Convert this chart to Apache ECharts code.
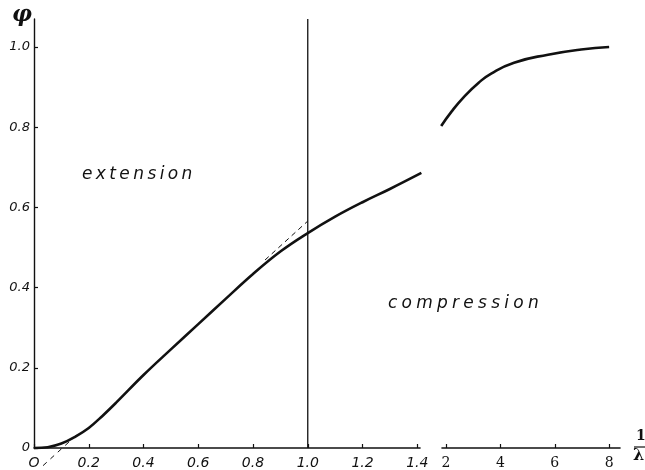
<!DOCTYPE html>
<html>
<head>
<meta charset="utf-8">
<script src="https://cdn.jsdelivr.net/npm/echarts@6/dist/echarts.min.js"></script>
<style>html,body{margin:0;padding:0;background:#fff}#c{width:645px;height:470px}</style>
</head>
<body>
<div id="c"></div>
<script>
// Left segment: extension (1/λ from 0 to 1.4)
var extX = [0, 0.05, 0.1, 0.15, 0.2, 0.25, 0.3, 0.4, 0.5, 0.6, 0.7, 0.8, 0.9, 1.0, 1.1, 1.2, 1.3, 1.415];
var extY = [0, 0.002, 0.011, 0.028, 0.05, 0.08, 0.113, 0.182, 0.246, 0.309, 0.372, 0.434, 0.49, 0.536, 0.577, 0.613, 0.646, 0.686];
// Right segment: compression (1/λ from 2 to 8)
var compX = [1.82, 2.2, 2.66, 3.2, 3.66, 4.5, 5.75, 6.97, 8.0];
var compY = [0.803, 0.839, 0.876, 0.911, 0.934, 0.961, 0.981, 0.994, 1.0];
// Dashed tangent lines
var tan1X = [0.033, 0.168];
var tan1Y = [-0.044, 0.040];
var tan2X = [0.844, 1.0];
var tan2Y = [0.469, 0.566];
// Vertical line at 1/λ = 1
var vlineX = [1.0, 1.0];
var vlineY = [0, 1.07];
// Tick labels
var yTicks = [0, 0.2, 0.4, 0.6, 0.8, 1.0];
var xTicksLeft = [0, 0.2, 0.4, 0.6, 0.8, 1.0, 1.2, 1.4];
var xTicksRight = [2, 4, 6, 8];

function pairs(xs, ys) { return xs.map(function (x, i) { return [x, ys[i]]; }); }

var ink = '#111';
var chart = echarts.init(document.getElementById('c'));
var labelFont = { color: ink, fontFamily: 'DejaVu Sans', fontStyle: 'italic', fontSize: 14 };

chart.setOption({
  backgroundColor: '#fff',
  animation: false,
  grid: [
    { left: 34, top: 19, width: 386, height: 429 },
    { left: 442, top: 19, width: 178, height: 429 }
  ],
  xAxis: [
    {
      gridIndex: 0, type: 'value', min: 0, max: 1.41,
      axisLine: { lineStyle: { color: ink, width: 1.6 } },
      axisTick: { inside: true, length: 4, customValues: xTicksLeft, lineStyle: { color: ink, width: 1.2 } },
      axisLabel: Object.assign({ customValues: xTicksLeft, margin: 8, formatter: function (v) { return v === 0 ? 'O' : v.toFixed(1); } }, labelFont),
      splitLine: { show: false }
    },
    {
      gridIndex: 1, type: 'value', min: 1.85, max: 8.4,
      axisLine: { lineStyle: { color: ink, width: 1.6 } },
      axisTick: { inside: true, length: 4, customValues: xTicksRight, lineStyle: { color: ink, width: 1.2 } },
      axisLabel: { customValues: xTicksRight, margin: 8, color: ink, fontFamily: 'DejaVu Serif', fontSize: 14 },
      splitLine: { show: false }
    }
  ],
  yAxis: [
    {
      gridIndex: 0, type: 'value', min: 0, max: 1.07,
      axisLine: { show: true, lineStyle: { color: ink, width: 1.4 } },
      axisTick: { inside: true, length: 4, customValues: yTicks, lineStyle: { color: ink, width: 1.2 } },
      axisLabel: Object.assign({ customValues: yTicks, margin: 4, formatter: function (v) { return v === 0 ? '0' : v.toFixed(1); } }, labelFont, { fontSize: 13 }),
      splitLine: { show: false }
    },
    {
      gridIndex: 1, type: 'value', min: 0, max: 1.07, show: false, splitLine: { show: false }
    }
  ],
  series: [
    { type: 'line', xAxisIndex: 0, yAxisIndex: 0, data: pairs(extX, extY), smooth: 0.4, showSymbol: false, clip: false,
      lineStyle: { color: ink, width: 2.6 } },
    { type: 'line', xAxisIndex: 1, yAxisIndex: 1, data: pairs(compX, compY), smooth: 0.5, showSymbol: false, clip: false,
      lineStyle: { color: ink, width: 2.6 } },
    { type: 'line', xAxisIndex: 0, yAxisIndex: 0, data: pairs(tan1X, tan1Y), showSymbol: false, clip: false,
      lineStyle: { color: ink, width: 1, type: [5, 5] } },
    { type: 'line', xAxisIndex: 0, yAxisIndex: 0, data: pairs(tan2X, tan2Y), showSymbol: false, clip: false,
      lineStyle: { color: ink, width: 1, type: [5, 4] } },
    { type: 'line', xAxisIndex: 0, yAxisIndex: 0, data: pairs(vlineX, vlineY), showSymbol: false, clip: false,
      lineStyle: { color: ink, width: 1.3 } }
  ],
  graphic: [
    { type: 'text', left: 12, top: 4, style: { text: 'φ', fill: ink, font: 'italic bold 22px "DejaVu Serif"' } },
    { type: 'text', left: 82, top: 166, style: { text: 'e\u2009x\u2009t\u2009e\u2009n\u2009s\u2009i\u2009o\u2009n', fill: ink, font: 'italic 17px "DejaVu Sans"' } },
    { type: 'text', left: 388, top: 295, style: { text: 'c\u2005o\u2005m\u2005p\u2005r\u2005e\u2005s\u2005s\u2005i\u2005o\u2005n', fill: ink, font: 'italic 17px "DejaVu Sans"' } },
    { type: 'text', left: 636, top: 429, style: { text: '1', fill: ink, font: 'bold 14px "DejaVu Serif"' } },
    { type: 'line', shape: { x1: 634, y1: 447, x2: 645, y2: 447 }, style: { stroke: ink, lineWidth: 1.2 } },
    { type: 'text', left: 633, top: 448, style: { text: 'λ', fill: ink, font: 'bold 16px "DejaVu Serif"' } }
  ]
});
</script>
</body>
</html>
